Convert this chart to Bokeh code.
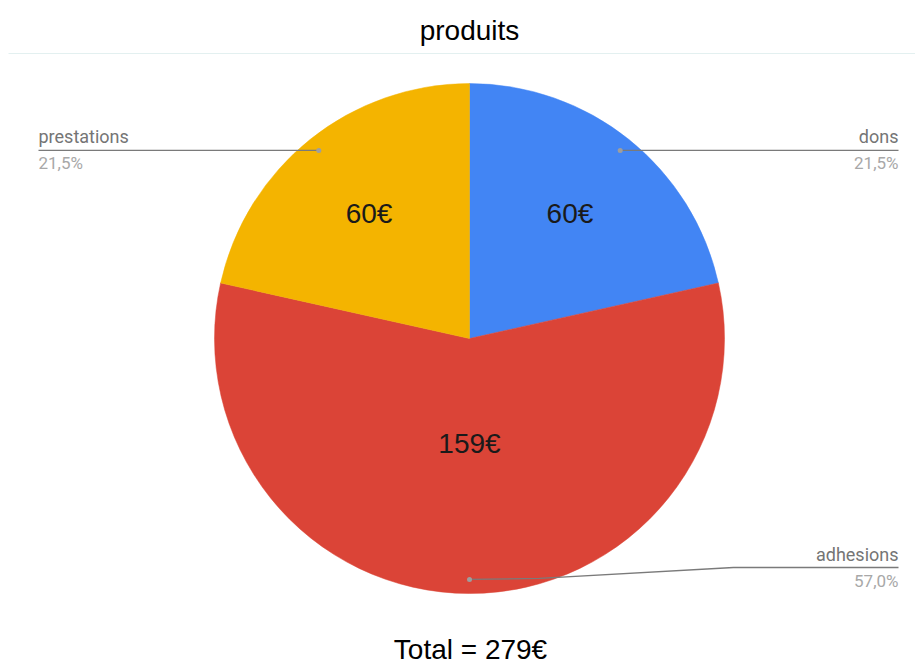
import math
from bokeh.plotting import figure
from bokeh.models import Range1d
from bokeh.embed import file_html
from bokeh.resources import INLINE
from bokeh.core.properties import value

# ---- data ----
categories = ["dons", "adhesions", "prestations"]
amounts = [60, 159, 60]
colors = ["#4285F4", "#DB4437", "#F4B400"]
chart_title = "produits"
currency = "€"

# ---- layout ----
W, H = 915, 664


def px(X):
    return X


def py(Y):
    return H - Y


cx, cy, R = px(469), py(338), 255
inner_frac = [0.63, 0.41, 0.63]          # radial position of in-slice labels
label_side = ["right", "right", "left"]  # side of outside labels
label_line_y = [149, 567, 149]           # image y of leader line at label

p = figure(width=W, height=H, x_range=Range1d(0, W), y_range=Range1d(0, H),
           output_backend="svg", toolbar_location=None, min_border=0)
p.axis.visible = False
p.grid.visible = False
p.outline_line_color = None
p.background_fill_color = "white"
p.border_fill_color = "white"

total = sum(amounts)
starts, ends, mids = [], [], []
acc = 0
for v in amounts:
    a0 = math.pi / 2 - acc / total * 2 * math.pi
    a1 = math.pi / 2 - (acc + v) / total * 2 * math.pi
    starts.append(a0)
    ends.append(a1)
    mids.append((a0 + a1) / 2)
    acc += v

# faint separator under title
p.line(x=[px(8), px(915)], y=[py(53), py(53)], line_color="#e3f0f0", line_width=1)

p.wedge(x=cx, y=cy, radius=R, start_angle=starts, end_angle=ends,
        direction="clock", fill_color=colors, line_color=colors, line_width=0.5)

# in-slice value labels
ix = [cx + f * R * math.cos(m) for f, m in zip(inner_frac, mids)]
iy = [cy + f * R * math.sin(m) for f, m in zip(inner_frac, mids)]
p.text(x=ix, y=iy, text=[f"{v}{currency}" for v in amounts],
       text_align="center", text_baseline="middle",
       text_font=value("Liberation Sans"), text_font_size="28px", text_color="#1a1a1a")

# leader lines + outside labels
LX_RIGHT, LX_LEFT = px(898), px(38)
name_x, name_y, name_align = [], [], []
pct_y, pct_text = [], []
for i, v in enumerate(amounts):
    dx = cx + 0.945 * R * math.cos(mids[i])
    dy = cy + 0.945 * R * math.sin(mids[i])
    ly = py(label_line_y[i])
    lx = LX_RIGHT if label_side[i] == "right" else LX_LEFT
    if abs(ly - dy) < 2:
        xs, ys = [dx, lx], [dy, dy]
    else:
        xs = [dx, dx + 70, lx - 165, lx]
        ys = [dy, dy + 1, ly, ly]
    p.line(x=xs, y=ys, line_color="#7a7a7a", line_width=1.3)
    p.scatter(x=[dx], y=[dy], size=5, fill_color="#9e9e9e", line_color=None)
    name_x.append(lx)
    name_y.append(ly + 13)
    name_align.append("right" if label_side[i] == "right" else "left")
    pct_y.append(ly - 13)
    pct_text.append(f"{v / total * 100:.1f}".replace(".", ",") + "%")

for i in range(len(amounts)):
    p.text(x=[name_x[i]], y=[name_y[i]], text=[categories[i]],
           text_align=name_align[i], text_baseline="middle",
           text_font=value("Roboto"), text_font_size="18px", text_color="#757575")
    p.text(x=[name_x[i]], y=[pct_y[i]], text=[pct_text[i]],
           text_align=name_align[i], text_baseline="middle",
           text_font=value("Roboto"), text_font_size="17px", text_color="#a8a8a8")

# title and total
p.text(x=[px(469)], y=[py(30)], text=[chart_title], text_align="center",
       text_baseline="middle", text_font=value("Liberation Sans"),
       text_font_size="28px", text_color="#000000")
p.text(x=[px(470)], y=[py(649)], text=[f"Total = {total}{currency}"], text_align="center",
       text_baseline="middle", text_font=value("Liberation Sans"),
       text_font_size="28px", text_color="#000000")

open("out.html", "w").write(file_html(p, INLINE))
